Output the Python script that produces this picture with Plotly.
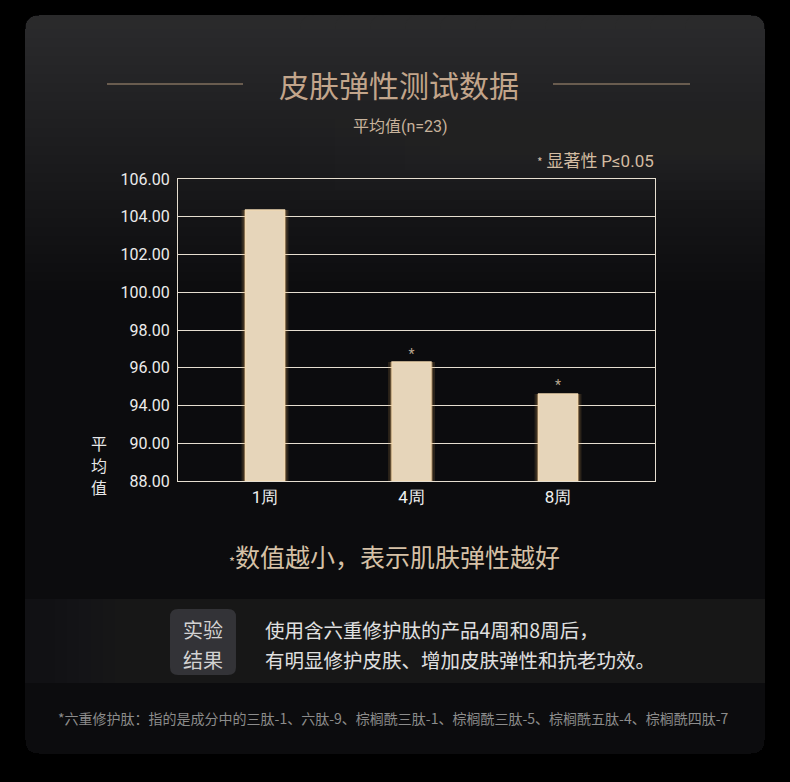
import plotly.graph_objects as go

# data
weeks = ["1周", "4周", "8周"]
means = [104.36, 96.30, 94.61]
signif = ["", "*", "*"]
tick_vals = [90, 92, 94, 96, 98, 100, 102, 104, 106]
tick_text = ["88.00", "90.00", "94.00", "96.00", "98.00", "100.00", "102.00", "104.00", "106.00"]

W, H = 790, 782
L, R, T, B = 178, 655, 179, 481  # plot area in pixels
AXIS_BASE = 90


def px(x):
    return (x - L) / (R - L)


def py(y):
    return (B - y) / (B - T)


def rounded(x0, y0, x1, y1, rt, rb=None):
    # rounded rect path in paper coords, built from pixel corners
    rb = rt if rb is None else rb
    pts = [
        ("M", [(x0 + rt, y0)]), ("L", [(x1 - rt, y0)]), ("Q", [(x1, y0), (x1, y0 + rt)]),
        ("L", [(x1, y1 - rb)]), ("Q", [(x1, y1), (x1 - rb, y1)]),
        ("L", [(x0 + rb, y1)]), ("Q", [(x0, y1), (x0, y1 - rb)]),
        ("L", [(x0, y0 + rt)]), ("Q", [(x0, y0), (x0 + rt, y0)]),
    ]
    s = ""
    for cmd, p in pts:
        s += cmd + " " + " ".join(f"{px(a):.5f},{py(b):.5f}" for a, b in p) + " "
    return s + "Z"


def patch(path, color):
    return dict(type="path", path=path, xref="paper", yref="paper",
                fillcolor=color, line=dict(width=0), layer="below")


def box(x0, y0, x1, y1, color):
    return dict(type="rect", xref="paper", yref="paper", x0=px(x0), x1=px(x1),
                y0=py(y0), y1=py(y1), fillcolor=color, line=dict(width=0), layer="below")


cjk = "Noto Sans CJK SC"
num = "Roboto, sans-serif"
tan = "#c2a58b"
grid = "#e6ded0"

heights = [m - AXIS_BASE for m in means]

fig = go.Figure()

# soft glow behind the bars
fig.add_trace(go.Bar(x=weeks, y=heights, base=AXIS_BASE, width=0.32,
                     marker=dict(color="rgba(214,160,95,0.16)", line=dict(width=0)),
                     hoverinfo="skip", showlegend=False))
fig.add_trace(go.Bar(x=weeks, y=heights, base=AXIS_BASE, width=0.29,
                     marker=dict(color="rgba(226,180,120,0.4)", line=dict(width=0)),
                     hoverinfo="skip", showlegend=False))
fig.add_trace(go.Bar(x=weeks, y=heights, base=AXIS_BASE, width=0.265,
                     marker=dict(color="#e6d5ba", line=dict(color="#f0d8b2", width=1.5)),
                     showlegend=False))
fig.add_trace(go.Scatter(x=weeks, y=means, mode="text", text=signif,
                         textposition="top center",
                         textfont=dict(family=num, size=14, color="#b9a68f"),
                         showlegend=False, hoverinfo="skip"))

shapes = []
# card
shapes.append(patch(rounded(25, 15, 765, 754, 14), "#0c0c0e"))
# lighter top of the card: stacked translucent layers, shorter each time
for i in range(30):
    shapes.append(patch(rounded(25, 15, 765, 290 - i * 9, 14, 0), "rgba(64,64,70,0.024)"))
# a touch brighter toward the top right
for i in range(12):
    shapes.append(patch(rounded(300 + i * 35, 15, 765, 200 - i * 10, 14, 0), "rgba(64,64,70,0.03)"))
# lighter bottom of the card
for i in range(12):
    shapes.append(patch(rounded(25, 684 + i * 5, 765, 754, 0, 14), "rgba(40,40,44,0.03)"))
# result band, fading in from the left
shapes.append(box(25, 599, 765, 683, "rgba(30,30,32,0.35)"))
for i in range(10):
    shapes.append(box(55 + i * 12, 599, 765, 683, "rgba(30,30,32,0.09)"))
shapes.append(patch(rounded(170, 609, 236, 675, 8), "#333337"))
# title rules
for x0, x1 in [(107, 243), (553, 690)]:
    shapes.append(dict(type="line", xref="paper", yref="paper", x0=px(x0), x1=px(x1),
                       y0=py(84), y1=py(84), line=dict(color="#b0957b", width=1.2)))

ann = []


def text(t, x, y, size, color, family=cjk, xanchor="center", align="center"):
    ann.append(dict(text=t, x=px(x), y=py(y), xref="paper", yref="paper", showarrow=False,
                    xanchor=xanchor, yanchor="middle", align=align,
                    font=dict(family=family, size=size, color=color)))


text("皮肤弹性测试数据", 399, 84, 30, tan)
text("平均值<span style='font-family:Roboto'>(n=23)</span>", 400, 125, 16, "#c8b39c")
text("<span style='font-size:12px'>*</span> 显著性 <span style='font-family:Roboto'>P≤0.05</span>",
     656, 159, 17, "#d3bca2", xanchor="right")
for ch, y in zip("平均值", [443, 465, 487]):
    text(ch, 99, y, 16, "#e8e8e8")
text("<span style='font-size:13px'>*</span>数值越小，表示肌肤弹性越好", 394, 556, 25, "#d6c1a6")
text("实验", 203, 629, 20, "#d2d2d2")
text("结果", 203, 659, 20, "#d2d2d2")
text("使用含六重修护肽的产品4周和8周后，", 263, 629, 19.5, "#e0e0e0", xanchor="left")
text("有明显修护皮肤、增加皮肤弹性和抗老功效。", 263, 659, 19.5, "#e0e0e0", xanchor="left")
text("*六重修护肽：指的是成分中的三肽-1、六肽-9、棕榈酰三肽-1、棕榈酰三肽-5、棕榈酰五肽-4、棕榈酰四肽-7",
     393, 718, 14, "#8c8c8c")

fig.update_layout(
    width=W, height=H,
    margin=dict(l=L, r=W - R, t=T, b=H - B, pad=0),
    paper_bgcolor="#000000", plot_bgcolor="rgba(0,0,0,0)",
    barmode="overlay", shapes=shapes, annotations=ann,
    xaxis=dict(type="category", range=[-0.594, 2.662], showgrid=False,
               showline=True, linecolor=grid, linewidth=1.2, mirror=True,
               ticks="", tickfont=dict(family=num, size=17, color="#f0f0f0"), fixedrange=True),
    yaxis=dict(range=[90, 106], tickvals=tick_vals, ticktext=tick_text,
               showgrid=True, gridcolor=grid, gridwidth=1.2, zeroline=False,
               showline=True, linecolor=grid, linewidth=1.2, mirror=True,
               ticks="", ticklabelstandoff=4,
               tickfont=dict(family=num, size=16, color="#ececec"), fixedrange=True),
)

fig.write_html("out.html", config={"displayModeBar": False},
               post_script="document.body.style.margin='0';")
